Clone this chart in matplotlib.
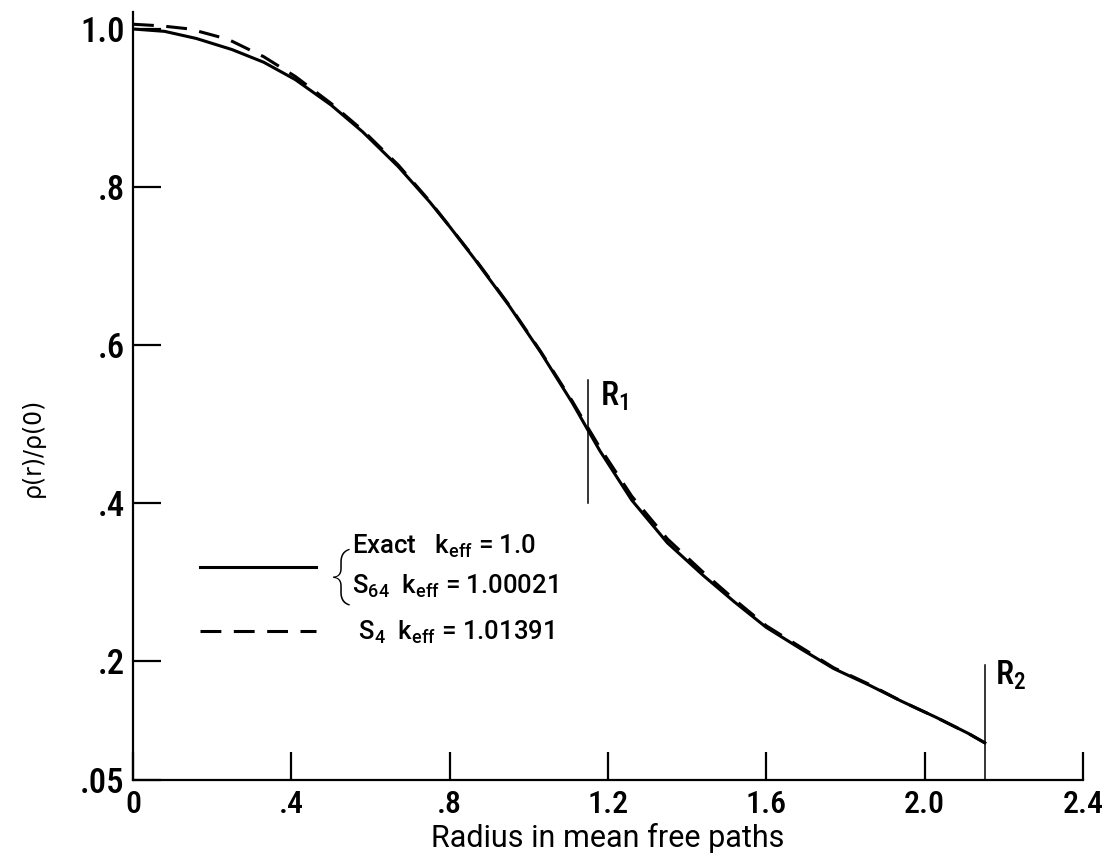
import matplotlib
matplotlib.use("Agg")
import matplotlib.pyplot as plt
from matplotlib import font_manager

# ---------- data ----------
# solid curve: exact / S64 solution
x_exact = [0, .08, .16, .25, .33, .41, .50, .58, .67, .75, .80, .86, .95, 1.03,
           1.11, 1.15, 1.18, 1.26, 1.35, 1.44, 1.52, 1.60, 1.69, 1.77, 1.86,
           1.94, 2.03, 2.11, 2.152]
y_exact = [1.000, .997, .988, .974, .958, .936, .904, .870, .826, .781, .750,
           .711, .650, .591, .527, .492, .466, .404, .350, .309, .275, .243,
           .215, .191, .170, .150, .129, .109, .097]
# dashed curve: S4 solution
x_s4 = [0, .07, .144, .24, .33, .41, .50, .58, .67, .75, .86, .95, 1.03, 1.11,
        1.15, 1.18, 1.26, 1.35, 1.44, 1.52, 1.60, 1.69, 1.77, 1.86, 1.94, 2.03,
        2.11, 2.152]
y_s4 = [1.006, 1.004, 1.000, .987, .965, .940, .906, .872, .828, .782, .712,
        .651, .592, .529, .495, .470, .409, .355, .313, .278, .245, .217, .192,
        .171, .150, .129, .109, .097]

r1, r1_span = 1.149, (0.40, 0.556)
r2, r2_span = 2.152, (0.05, 0.195)

xticks = [0, .4, .8, 1.2, 1.6, 2.0, 2.4]
xticklabels = ["0", ".4", ".8", "1.2", "1.6", "2.0", "2.4"]
yticks = [.05, .2, .4, .6, .8, 1.0]
yticklabels = [".05", ".2", ".4", ".6", ".8", "1.0"]

label_exact = "Exact   k$_{eff}$ = 1.0\nS$_{64}$  k$_{eff}$ = 1.00021"
label_s4 = " S$_4$  k$_{eff}$ = 1.01391"

# ---------- fonts ----------
avail = {f.name for f in font_manager.fontManager.ttflist}
narrow = next((f for f in ["Roboto Condensed", "Liberation Sans Narrow"] if f in avail),
              "DejaVu Sans")
plt.rcParams["font.family"] = ["Roboto", "DejaVu Sans"]
plt.rcParams["mathtext.default"] = "regular"
plt.rcParams["lines.scale_dashes"] = False

# ---------- plot ----------
fig = plt.figure(figsize=(11.11, 8.65), dpi=100)
ax = fig.add_axes([133 / 1111, 85 / 865, 950 / 1111, 768 / 865])

solid, = ax.plot(x_exact, y_exact, color="black", lw=2.2)
dashed, = ax.plot(x_s4, y_s4, color="black", lw=2.2, dashes=(15, 9))

ax.plot([r1, r1], r1_span, color="black", lw=1.1)
ax.plot([r2, r2], r2_span, color="black", lw=1.1)
ax.text(r1 + 0.03, r1_span[1], "R$_1$", fontsize=24, va="top", family=narrow,
        fontweight=500)
ax.text(r2 + 0.026, r2_span[1] + 0.008, "R$_2$", fontsize=24, va="top",
        family=narrow, fontweight=500)

ax.set_xlim(0, 2.4)
ax.set_ylim(0.05, 1.0215)
ax.spines[["top", "right"]].set_visible(False)
for s in ("left", "bottom"):
    ax.spines[s].set_linewidth(1.6)
ax.tick_params(direction="in", length=20, width=1.6)
ax.tick_params(axis="x", labelsize=23, pad=7)
ax.tick_params(axis="y", labelsize=25, pad=6)
ax.set_xticks(xticks, xticklabels)
ax.set_yticks(yticks, yticklabels)
for lbl in ax.get_xticklabels() + ax.get_yticklabels():
    lbl.set_family(narrow)
    lbl.set_fontweight(500)
ax.set_xlabel("Radius in mean free paths", fontsize=22, labelpad=3)
fig.text(33 / 1111, 1 - 447 / 865, "ρ(r)/ρ(0)", rotation=90,
         ha="center", va="center", fontsize=17, family="DejaVu Sans")

leg = ax.legend([solid, dashed], [label_exact, label_s4],
                loc="upper left", bbox_to_anchor=(0.0705, 0.322),
                frameon=False, fontsize=18.5, handlelength=4.5,
                handletextpad=1.4, labelspacing=0.75,
                prop={"weight": 500, "size": 18.5},
                borderpad=0, borderaxespad=0)
leg.get_texts()[0].set_linespacing(1.6)
ax.text(0.218, 0.264, "{", transform=ax.transAxes, fontsize=42,
        ha="center", va="center", fontweight="light")

plt.savefig("out.png", dpi=100)
plt.close()
